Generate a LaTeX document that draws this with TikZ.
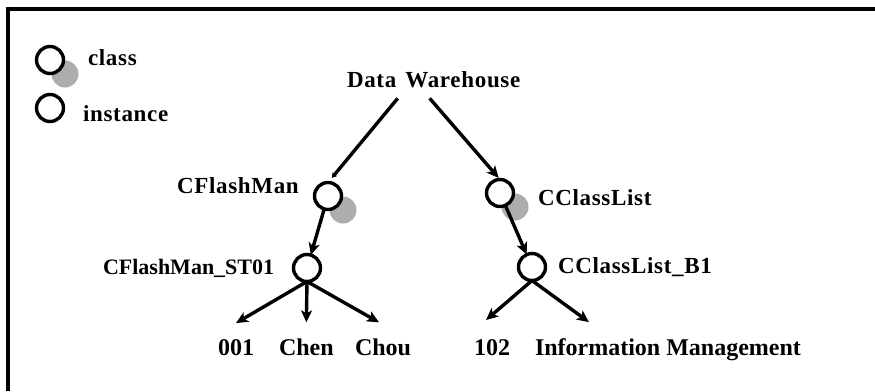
\documentclass[tikz,border=0pt]{standalone}
\usepackage{fontspec}
\setmainfont{Liberation Serif}
\newfontfamily\widefont[LetterSpace=3]{Liberation Serif}
\usetikzlibrary{arrows.meta,shadows}
\definecolor{shadegray}{gray}{0.68}
\begin{document}
\begin{tikzpicture}[x=1pt,y=-1pt,
  every node/.style={inner sep=0pt, outer sep=0pt},
  instobj/.style={circle, draw, fill=white, line width=3.4pt, minimum size=27pt},
  classobj/.style={instobj, drop shadow={shadow xshift=15pt, shadow yshift=-14pt,
      fill=shadegray, opacity=1}},
  toplabel/.style={anchor=base west, font=\widefont\bfseries\fontsize{23}{26}\selectfont},
  objlabel/.style={anchor=base west, font=\bfseries\fontsize{22}{26}\selectfont},
  leaflabel/.style={anchor=base west, font=\bfseries\fontsize{24}{28}\selectfont},
  arr/.style={line width=3.4pt, -{Stealth[length=12pt, width=11pt, inset=3pt]}},
  tinyarr/.style={line width=3.4pt, -{Stealth[length=5pt, width=6pt]}},
]
\useasboundingbox (0,0) rectangle (875,391);

% frame (top and left edges)
\draw[line width=3.2pt] (8,391) -- (8,9) -- (875,9);

% legend
\node[classobj] (legclass) at (50,60) {};
\node[toplabel] (legclasstxt) at (88,65) {class};
\node[instobj] (leginst) at (50,108) {};
\node[toplabel] (leginsttxt) at (83,121) {instance};

% root
\node[toplabel] (dw) at (347,87) {Data\hskip 9pt Warehouse};

% classes
\node[classobj] (cfm) at (328,196) {};
\node[toplabel] (cfmtxt) at (177,193) {CFlashMan};
\node[classobj] (ccl) at (500,193) {};
\node[toplabel] (ccltxt) at (538,205) {CClassList};

% instances
\node[instobj] (st) at (307,268) {};
\node[objlabel] (sttxt) at (103,274) {CFlashMan\_ST01};
\node[instobj] (b1) at (532,267) {};
\node[toplabel] (b1txt) at (558,273) {CClassList\_B1};

% attribute values
\node[leaflabel] (v001) at (218,355) {001};
\node[leaflabel] (vchen) at (279,355) {Chen};
\node[leaflabel] (vchou) at (355,355) {Chou};
\node[leaflabel] (v102) at (474,355) {102};
\node[leaflabel] (vinfo) at (535,355) {Information Management};

% connectors
\draw[tinyarr, shorten >=6pt] ([shift={(-36pt,-11pt)}]dw.south) -- (cfm.north);
\draw[arr, shorten >=2pt] ([shift={(-4pt,-11pt)}]dw.south) -- (ccl.north);
\draw[arr] (cfm) -- (st);
\draw[arr] (ccl) -- (b1);
\draw[arr] (st.south) -- ([yshift=16pt]v001.north);
\draw[arr] (st.south) -- ([yshift=16pt]vchen.north);
\draw[arr] (st.south) -- ([shift={(-4pt,16pt)}]vchou.north);
\draw[arr] (b1.south) -- ([shift={(-6pt,19pt)}]v102.north);
\draw[arr] (b1.south) -- ([shift={(54pt,16pt)}]vinfo.north west);
\end{tikzpicture}
\end{document}
